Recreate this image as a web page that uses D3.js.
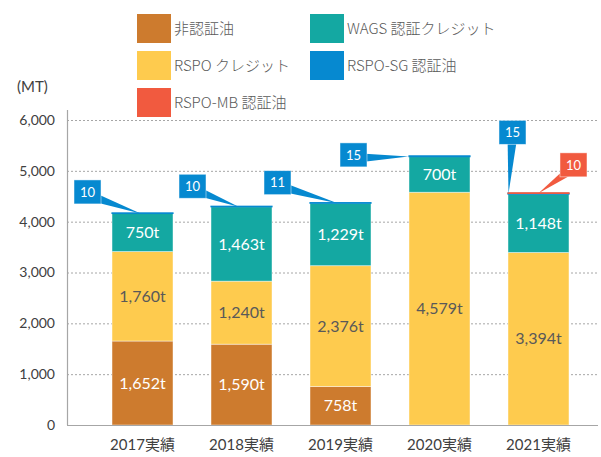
<!DOCTYPE html>
<html><head><meta charset="utf-8">
<script src="https://cdn.jsdelivr.net/npm/d3@7"></script>
<style>
html,body{margin:0;padding:0;background:#fff;}
svg{display:block;}
</style></head>
<body>
<svg id="chart" width="601" height="457"></svg>
<script>
// ---- data ----
const years = ["2017実績","2018実績","2019実績","2020実績","2021実績"];
const seriesNames = ["非認証油","RSPO クレジット","WAGS 認証クレジット","RSPO-SG 認証油","RSPO-MB 認証油"];
const nonCertified = [1652, 1590, 758, 0, 0];
const rspoCredit   = [1760, 1240, 2376, 4579, 3394];
const wagsCredit   = [750, 1463, 1229, 700, 1148];
const rspoSG       = [10, 10, 11, 15, 15];
const rspoMB       = [0, 0, 0, 0, 10];
const yTicks = [0, 1000, 2000, 3000, 4000, 5000, 6000];
const unitLabel = "(MT)";

// ---- styles ----
const colors = ["#CD7B2E", "#FECB4E", "#14A8A2", "#0689D0", "#F15A3F"];
const labelColors = ["#ffffff", "#595959", "#ffffff", null, null];
const keys = ["nc","rc","wg","sg","mb"];
const seriesVals = [nonCertified, rspoCredit, wagsCredit, rspoSG, rspoMB];

const rows = years.map((yr, i) => {
  const o = {year: yr};
  keys.forEach((k, j) => o[k] = seriesVals[j][i]);
  return o;
});

const svg = d3.select("#chart");
const x = d3.scaleBand().domain(years).range([74, 607]).paddingInner(0.384).paddingOuter(0.384);
const y = d3.scaleLinear().domain([0, 6000]).range([425, 120]);
const axisLeftX = 67, plotRight = 598;

// gridlines
svg.append("g").selectAll("line").data(yTicks.filter(d => d > 0)).join("line")
  .attr("x1", axisLeftX).attr("x2", plotRight)
  .attr("y1", d => y(d) + 0.5).attr("y2", d => y(d) + 0.5)
  .attr("stroke", "#A6A6A6").attr("stroke-width", 1).attr("stroke-dasharray", "2,2");

// y axis
const yAxis = svg.append("g").attr("transform", `translate(${axisLeftX},0)`)
  .call(d3.axisLeft(y).tickValues(yTicks).tickSize(0).tickPadding(12).tickFormat(d3.format(",")));
yAxis.select(".domain").remove();
yAxis.selectAll("text").attr("font-family", "Lato, sans-serif").attr("font-size", 14).attr("fill", "#404040");
svg.append("line").attr("x1", axisLeftX + 0.5).attr("x2", axisLeftX + 0.5)
  .attr("y1", 110).attr("y2", y(0)).attr("stroke", "#A6A6A6").attr("stroke-width", 1.2);

// stacked bars
const stack = d3.stack().keys(keys)(rows);
const layers = svg.append("g").selectAll("g").data(stack).join("g")
  .attr("fill", (d, i) => colors[i]);
layers.selectAll("rect").data(d => d.filter(s => s[1] - s[0] > 0)).join("rect")
  .attr("x", d => x(d.data.year))
  .attr("width", x.bandwidth())
  .attr("y", d => y(d[1]))
  .attr("height", d => Math.max(0.5, y(d[0]) - y(d[1])))
  .each(function(d) {
    const li = keys.indexOf(d3.select(this.parentNode).datum().key);
    if (li >= 3) {
      d3.select(this).attr("stroke", colors[li]).attr("stroke-width", 1.2);
    } else {
      d3.select(this).attr("stroke", "rgba(255,255,255,0.55)").attr("stroke-width", 0.8);
    }
  });

// x axis baseline
svg.append("line").attr("x1", axisLeftX).attr("x2", plotRight)
  .attr("y1", y(0) + 0.5).attr("y2", y(0) + 0.5).attr("stroke", "#A6A6A6").attr("stroke-width", 1.2);
const xAxis = svg.append("g").attr("transform", `translate(0,${y(0)})`)
  .call(d3.axisBottom(x).tickSize(0).tickPadding(14));
xAxis.select(".domain").remove();
xAxis.selectAll("text").attr("font-family", "Lato, 'Noto Sans CJK JP', sans-serif").attr("font-size", 15).attr("fill", "#404040");

// value labels inside segments
stack.forEach((layer, li) => {
  if (!labelColors[li]) return;
  svg.append("g").selectAll("text").data(layer.filter(s => s[1] - s[0] > 0)).join("text")
    .attr("x", d => x(d.data.year) + x.bandwidth() / 2)
    .attr("y", d => (y(d[0]) + y(d[1])) / 2)
    .attr("dy", "0.35em")
    .attr("text-anchor", "middle")
    .attr("font-family", "Lato, sans-serif").attr("font-size", 16)
    .attr("fill", labelColors[li])
    .text(d => d3.format(",")(d.data[layer.key]) + "t");
});

// callouts for tiny segments (layout offsets only)
const calloutLayout = {
  "sg": [
    {bx: -55, by: -33, tx: -2},
    {bx: -49, by: -32, tx: -3},
    {bx: -63, by: -32, tx: -3},
    {bx: -86, by: -13, tx: -31},
    {bx: -26, by: -73, tx: -30}
  ],
  "mb": [null, null, null, null, {bx: 35, by: -40, tx: 0}]
};
const bw = 27, bh = 24;
["sg","mb"].forEach(key => {
  const li = keys.indexOf(key);
  const layer = stack[li];
  layer.forEach((s, i) => {
    const val = s.data[key];
    const lay = calloutLayout[key][i];
    if (!val || !lay) return;
    const cx = x(s.data.year) + x.bandwidth() / 2;
    const top = y(s[1]);
    const bx = cx + lay.bx - bw / 2, by = top + lay.by;
    const tipX = cx + lay.tx, tipY = top + 0.5;
    const bcx = bx + bw / 2, bcy = by + bh / 2 + 3;
    const ang = Math.atan2(tipY - bcy, tipX - bcx);
    const w = 5;
    const p1 = [bcx + Math.sin(ang) * w, bcy - Math.cos(ang) * w];
    const p2 = [bcx - Math.sin(ang) * w, bcy + Math.cos(ang) * w];
    const g = svg.append("g");
    g.append("path").attr("d", `M${p1[0]},${p1[1]}L${tipX},${tipY}L${p2[0]},${p2[1]}Z`).attr("fill", colors[li]);
    g.append("rect").attr("x", bx).attr("y", by).attr("width", bw).attr("height", bh)
      .attr("fill", colors[li]).attr("stroke", "rgba(255,255,255,0.6)").attr("stroke-width", 0.8);
    g.append("text").attr("x", bx + bw / 2).attr("y", by + bh / 2).attr("dy", "0.36em")
      .attr("text-anchor", "middle").attr("font-family", "Lato, sans-serif").attr("font-size", 13)
      .attr("fill", "#fff").text(val);
  });
});

// unit label
svg.append("text").attr("x", 17).attr("y", 87).attr("dy", "0.35em")
  .attr("font-family", "Lato, sans-serif").attr("font-size", 15).attr("fill", "#404040").text(unitLabel);

// legend
const legendOrder = [0, 1, 4, 2, 3];
const legendPos = [[137, 14], [137, 51], [137, 88], [310, 14], [310, 51]];
const lg = svg.append("g").selectAll("g").data(legendOrder).join("g")
  .attr("transform", (d, i) => `translate(${legendPos[i][0]},${legendPos[i][1]})`);
lg.append("rect").attr("width", 34).attr("height", 29).attr("fill", d => colors[d]);
lg.append("text").attr("x", 37).attr("y", 15).attr("dy", "0.35em")
  .attr("font-family", "'Noto Sans CJK JP', sans-serif").attr("font-size", 15).attr("font-weight", 300)
  .attr("fill", "#595959").text(d => seriesNames[d]);
</script>
</body></html>
